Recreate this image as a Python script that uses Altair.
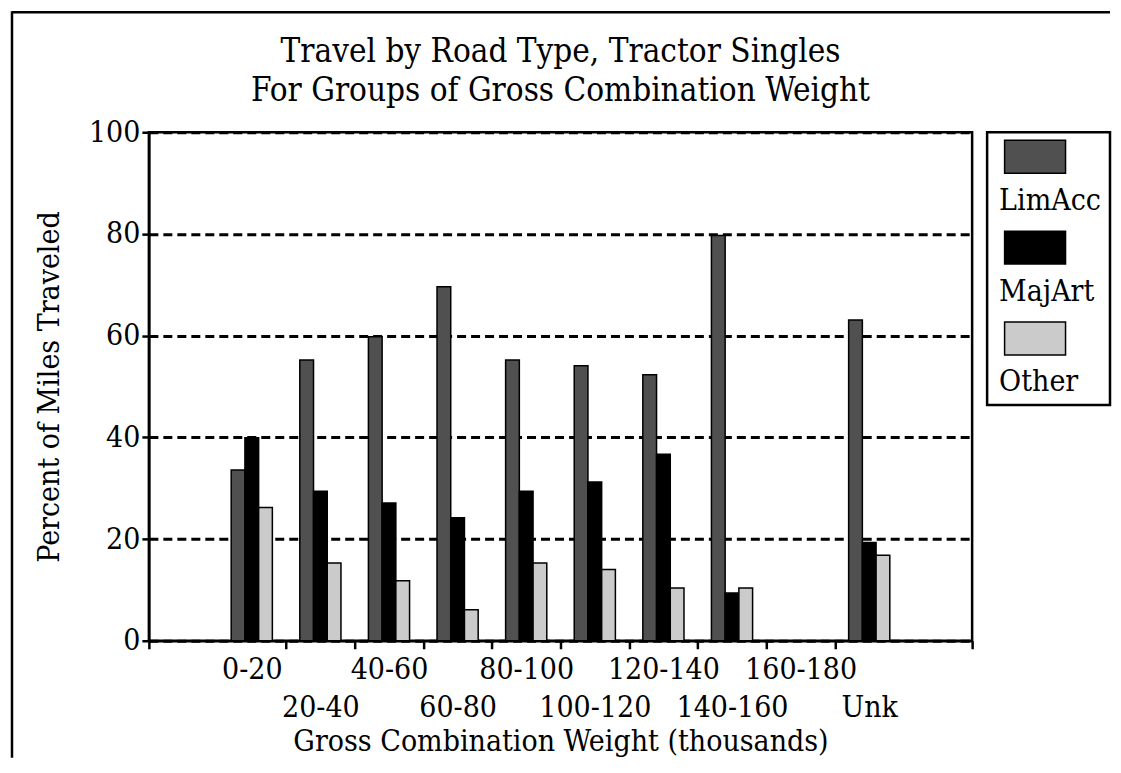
import altair as alt
import pandas as pd

# ---------------- data ----------------
title_lines = ["Travel by Road Type, Tractor Singles",
               "For Groups of Gross Combination Weight"]
weights = ["0-20", "20-40", "40-60", "60-80", "80-100",
           "100-120", "120-140", "140-160", "160-180", "Unk"]
second_row = ["20-40", "60-80", "100-120", "140-160", "Unk"]
series = ["LimAcc", "MajArt", "Other"]
limacc = [33.6, 55.2, 59.8, 69.6, 55.2, 54.1, 52.3, 79.7, None, 63.1]
majart = [39.9, 29.4, 27.1, 24.2, 29.4, 31.2, 36.7, 9.4, None, 19.3]
other = [26.2, 15.3, 11.8, 6.1, 15.3, 14.0, 10.4, 10.4, None, 16.8]
y_ticks = [0, 20, 40, 60, 80, 100]
x_title = "Gross Combination Weight (thousands)"
y_title = "Percent of Miles Traveled"

colors = ["#505050", "#000000", "#cbcbcb"]

rows = []
for s, vals in zip(series, [limacc, majart, other]):
    for w, v in zip(weights, vals):
        if v is not None:
            rows.append({"weight": w, "series": s, "pct": v})
df = pd.DataFrame(rows)

x_domain = ["pad_start"] + weights + ["pad_end"]
FONT = "DejaVu Serif Condensed"
W, H = 824, 509

row2_js = "[" + ",".join(f"'{c}'" for c in second_row) + "]"
label_expr = (
    "indexof(['pad_start','pad_end'], datum.value) >= 0 ? '' : "
    f"(indexof({row2_js}, datum.value) >= 0 ? ['', datum.label] : datum.label)"
)

x_axis = alt.Axis(
    title=x_title,
    labelExpr=label_expr,
    labelAngle=0,
    labelAlign="center",
    labelBaseline="top",
    labelOverlap=False,
    labelLineHeight=38,
    labelPadding=6,
    labelFontSize=30,
    tickBand="extent",
    tickSize=8,
    tickOpacity={"condition": {"test": "datum.value === 'pad_start' || datum.value === 'Unk'",
                               "value": 0}, "value": 1},
    titleFontSize=30,
    titlePadding=4,
    grid=False,
)

y_axis = alt.Axis(
    values=y_ticks,
    title=y_title,
    grid=True,
    gridDash=[9, 5],
    gridColor="black",
    gridWidth=3,
    tickSize=7,
    labelPadding=2,
    labelFontSize=30,
    titleFontSize=30,
    titlePadding=24,
)

color_scale = alt.Scale(domain=series, range=colors)

bars = alt.Chart(df).mark_bar(stroke="black", strokeWidth=1.5).encode(
    x=alt.X("weight:N", scale=alt.Scale(domain=x_domain, paddingInner=0, paddingOuter=0),
            axis=x_axis),
    xOffset=alt.XOffset("series:N", scale=alt.Scale(domain=series, paddingInner=0, paddingOuter=1.0)),
    y=alt.Y("pct:Q", scale=alt.Scale(domain=[0, 100], nice=False), axis=y_axis),
    color=alt.Color("series:N", scale=color_scale, legend=None),
)

one = pd.DataFrame({"k": [0]})
top_rule = alt.Chart(one).mark_rule(color="black", strokeWidth=2.5).encode(
    x=alt.value(-137), x2=alt.value(962), y=alt.value(-120)
)
left_rule = alt.Chart(one).mark_rule(color="black", strokeWidth=2.5).encode(
    x=alt.value(-137), y=alt.value(-121), y2=alt.value(626)
)

t1 = alt.Chart(pd.DataFrame({"t": [title_lines[0]]})).mark_text(
    font=FONT, fontSize=33, align="center", baseline="alphabetic", color="black"
).encode(text="t:N", x=alt.value(W / 2), y=alt.value(-70))
t2 = alt.Chart(pd.DataFrame({"t": [title_lines[1]]})).mark_text(
    font=FONT, fontSize=33, align="center", baseline="alphabetic", color="black"
).encode(text="t:N", x=alt.value(W / 2), y=alt.value(-31))

main = alt.layer(bars, top_rule, left_rule, t1, t2).properties(width=W, height=H)

# ---------------- legend panel ----------------
leg_df = pd.DataFrame({"series": series})
leg_scale = alt.Scale(domain=series, paddingInner=0, paddingOuter=0.1)
sym = alt.Chart(leg_df).mark_point(
    shape="M-1,-0.54H1V0.54H-1Z", size=3721, filled=True, opacity=1,
    stroke="black", strokeWidth=1.5, yOffset=-21
).encode(
    y=alt.Y("series:N", scale=leg_scale, axis=None),
    x=alt.value(48),
    color=alt.Color("series:N", scale=color_scale, legend=None),
)
lab = alt.Chart(leg_df).mark_text(
    align="left", baseline="middle", font=FONT, fontSize=30, color="black", yOffset=23
).encode(
    y=alt.Y("series:N", scale=leg_scale, axis=None),
    x=alt.value(12),
    text="series:N",
)
legend = alt.layer(sym, lab).properties(width=123, height=273)

chart = alt.hconcat(main, legend, spacing=15, bounds="flush").properties(
    padding={"left": 1, "top": 0, "right": 0, "bottom": 0}
).configure_view(
    stroke="black", strokeWidth=2.5
).configure_axis(
    labelFont=FONT, titleFont=FONT, labelColor="black", titleColor="black",
    titleFontWeight="normal", domainColor="black", domainWidth=2.5,
    tickColor="black", tickWidth=2.5
)

chart.save("out.html", embed_options={"renderer": "svg", "actions": False})
